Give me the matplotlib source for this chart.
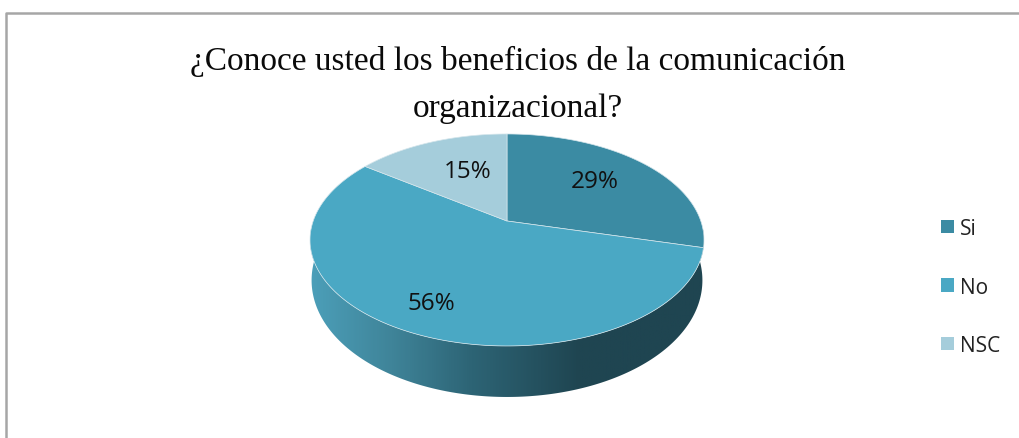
import numpy as np
import matplotlib
matplotlib.use("Agg")
import matplotlib.pyplot as plt
from matplotlib.patches import Patch
from matplotlib.colors import LinearSegmentedColormap

# datos
labels = ["Si", "No", "NSC"]
values = [29, 56, 15]
colors = ["#3B8BA3", "#4AA8C4", "#A5CDDB"]
title = "¿Conoce usted los beneficios de la comunicación\norganizacional?"

W, H = 1019, 439
CX, CY = 507, 222      # vertice de la torta
K, A, B = 0.179, 102.6, 193.8   # perspectiva


def project(theta):
    x, y = np.cos(theta), np.sin(theta)
    s = 1 / (1 + K * y)
    return CX + B * x * s, CY - A * y * s


fig = plt.figure(figsize=(W / 100, H / 100), dpi=100)
ax = fig.add_axes([0, 0, 1, 1])
ax.set_xlim(0, W)
ax.set_ylim(H, 0)
ax.axis("off")

# marco
ax.plot([5.7, 5.7, W + 5], [H + 5, 14, 14], color="#A6A6A6", lw=1.8, clip_on=False)

# lateral con degradado
t = np.linspace(0, -np.pi, 300)
tx, ty = project(t)
depth = 38 + 13 * np.sin(-t)
bx = CX + (tx - CX) * 0.992
by = ty + depth
side_x = np.r_[tx, bx[::-1]]
side_y = np.r_[ty, by[::-1]]
side_poly = ax.fill(side_x, side_y, color="none", lw=0)[0]
cmap = LinearSegmentedColormap.from_list(
    "lado", [(0, "#4C9FB9"), (0.3, "#3F8499"), (0.6, "#2D6475"), (1, "#1F4551")])
grad = np.clip((np.linspace(310, 705, 400) - 310) / (580 - 310), 0, 1)[None, :]
img = ax.imshow(grad, extent=[310, 705, 400, 230], cmap=cmap, aspect="auto", vmin=0, vmax=1, zorder=1)
img.set_clip_path(side_poly)
ax.set_xlim(0, W)
ax.set_ylim(H, 0)

# sectores
start = np.pi / 2
for val, col in zip(values, colors):
    sweep = val / sum(values) * 2 * np.pi
    th = np.linspace(start, start - sweep, 200)
    px, py = project(th)
    ax.fill(np.r_[CX, px], np.r_[CY, py], facecolor=col, edgecolor="#D5E6EC", lw=0.5, zorder=2)
    start -= sweep

# etiquetas
ax.text(595, 182, f"{values[0]}%", ha="center", va="center", fontsize=17.5, family="Open Sans", color="#111111", zorder=3)
ax.text(431, 304, f"{values[1]}%", ha="center", va="center", fontsize=17.5, family="Open Sans", color="#111111", zorder=3)
ax.text(468, 172, f"{values[2]}%", ha="center", va="center", fontsize=17.5, family="Open Sans", color="#111111", zorder=3)

ax.text(518, 85, title, ha="center", va="center", fontsize=24, family="Liberation Serif",
        linespacing=1.7, color="#0A0A0A")

handles = [Patch(facecolor=c, edgecolor="none") for c in colors]
ax.legend(handles, labels, loc="center left", bbox_to_anchor=(941 / W, 1 - 288 / H), frameon=False,
          prop={"family": "Open Sans", "size": 15}, handlelength=0.63, handleheight=0.63,
          handletextpad=0.3, labelspacing=1.8, borderpad=0, borderaxespad=0, labelcolor="#222222")

plt.savefig("out.png", dpi=100)
